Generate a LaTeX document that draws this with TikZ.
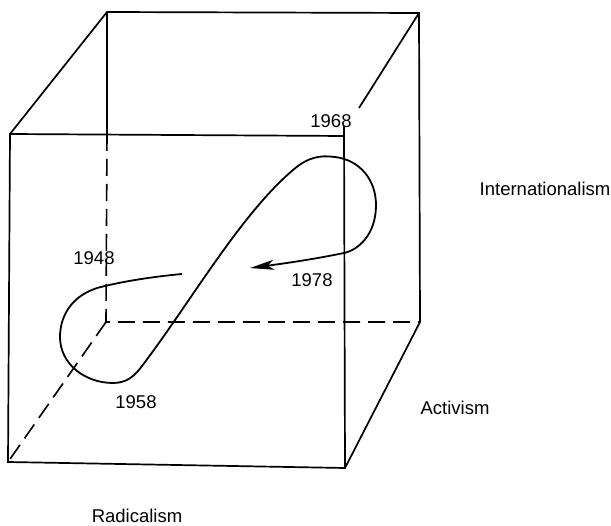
\documentclass[tikz,border=0pt]{standalone}
\usepackage{fontspec}
\setmainfont{Liberation Sans}
\usetikzlibrary{arrows.meta}
\begin{document}
\begin{tikzpicture}[x=1pt,y=-1pt,
  edge/.style={line width=1.7pt,line join=miter},
  hidden/.style={line width=1.6pt,dash pattern=on 17pt off 8pt},
  trail/.style={line width=1.8pt},
  lbl/.style={font=\fontsize{18.5}{21}\selectfont,inner sep=0pt}]
\useasboundingbox (0,0) rectangle (611,526);
% front face
\coordinate (FTL) at (10,134);
\coordinate (FTR) at (344,136);
\coordinate (FBR) at (345,468);
\coordinate (FBL) at (8,462);
% back face
\coordinate (BTL) at (107,12);
\coordinate (BTR) at (419,13);
\coordinate (BBR) at (420,322);
\coordinate (BBL) at (106,322);
\coordinate (BLmid) at (107,134);
\coordinate (gapend) at (359,108);
% visible edges
\draw[edge] (FTR) -- (FTL) -- (FBL) -- (FBR) -- (344,126);
\draw[edge] (FTL) -- (BTL) -- (BTR) -- (BBR) -- (FBR);
\draw[edge] (BTL) -- (BLmid);
\draw[edge] (BTR) -- (gapend);
% hidden edges
\draw[hidden] (BLmid) -- (BBL) -- (BBR);
\draw[hidden] (BBL) -- (FBL);
% trajectory
\coordinate (start) at (182,274);
\coordinate (tip) at (250,268);
\draw[trail,-{Stealth[length=24pt,width=10pt,inset=6pt]}] (start)
  .. controls (160,276) and (130,280) .. (105,286)
  .. controls (75,292) and (60,313) .. (60,337)
  .. controls (60,364) and (85,383) .. (113,383)
  .. controls (126,383) and (134,377) .. (142,366)
  .. controls (190,303) and (240,215) .. (293,170)
  .. controls (308,157) and (320,155) .. (335,157)
  .. controls (360,160) and (376,180) .. (376,205)
  .. controls (376,235) and (358,250) .. (344,253)
  .. controls (310,260) and (280,264) .. (tip);
% labels
\node[lbl] (y68) at (331,121) {1968};
\node[lbl] (y48) at (94,258) {1948};
\node[lbl] (y78) at (312,280) {1978};
\node[lbl] (y58) at (136,402) {1958};
\node[lbl] (intl) at (545,189) {Internationalism};
\node[lbl] (act) at (455,408) {Activism};
\node[lbl] (rad) at (137,516) {Radicalism};
\end{tikzpicture}
\end{document}
